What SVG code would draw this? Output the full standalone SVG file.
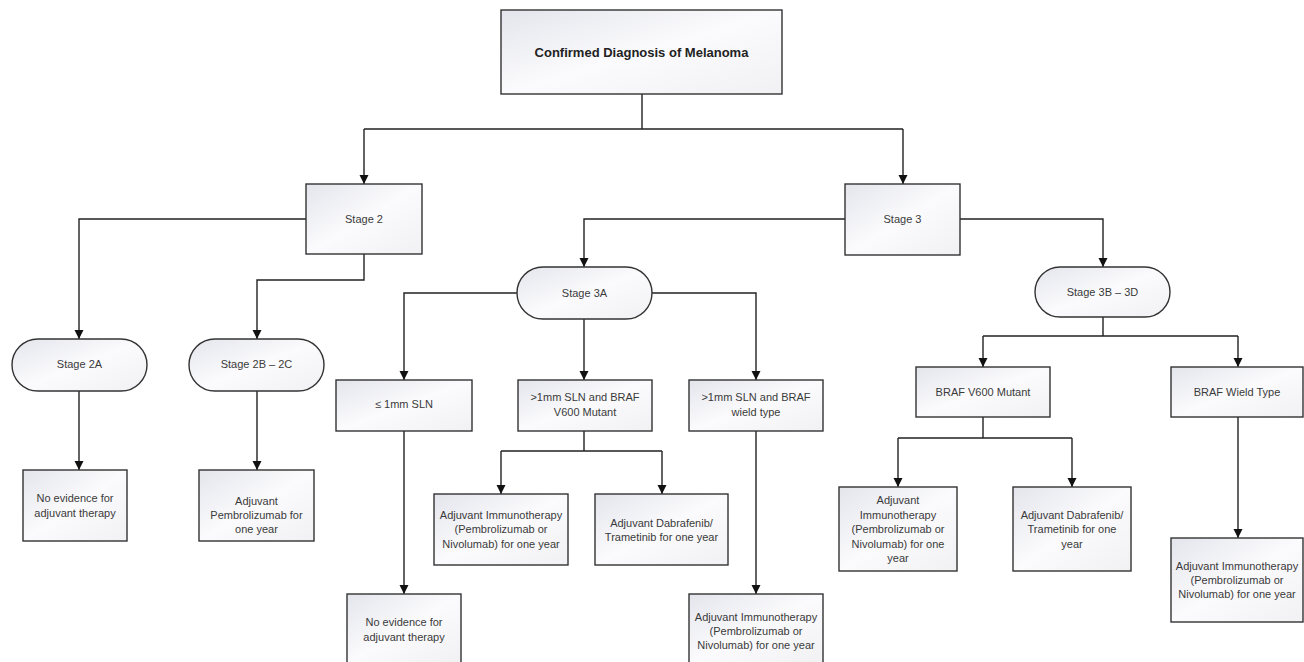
<svg xmlns="http://www.w3.org/2000/svg" width="1304" height="662" viewBox="0 0 1304 662">
<defs>
<linearGradient id="g" x1="0" y1="0" x2="1" y2="1">
<stop offset="0" stop-color="#e4e5ec"/>
<stop offset="0.5" stop-color="#fbfbfd"/>
<stop offset="1" stop-color="#f1f1f3"/>
</linearGradient>
<marker id="arr" markerWidth="10" markerHeight="10" refX="9" refY="5" orient="auto" markerUnits="userSpaceOnUse">
<path d="M0,0.5 L9,5 L0,9.5 Z" fill="#111"/>
</marker>
<style>
.box{fill:url(#g);stroke:#333;stroke-width:1.4}
.t{font-family:"Liberation Sans",Arial,sans-serif;font-size:11px;fill:#3a3a3a;text-anchor:middle;dominant-baseline:central}
.tb{font-family:"Liberation Sans",Arial,sans-serif;font-size:13px;font-weight:bold;fill:#222;text-anchor:middle;dominant-baseline:central}
.c{fill:none;stroke:#222;stroke-width:1.4}
.a{marker-end:url(#arr)}
</style>
</defs>
<rect width="1304" height="662" fill="#fff"/>

<g id="connectors">
<path class="c" d="M642,94 V129 M364,129 H903"/>
<path class="c a" d="M364,129 V184"/>
<path class="c a" d="M903,129 V184"/>
<path class="c a" d="M306,219 H79 V339"/>
<path class="c a" d="M364,254 V280 H257 V339"/>
<path class="c a" d="M79,391 V470"/>
<path class="c a" d="M257,391 V470"/>
<path class="c a" d="M845,219 H584 V267"/>
<path class="c a" d="M960,219 H1103 V267"/>
<path class="c a" d="M517,293 H404 V380"/>
<path class="c a" d="M584,319 V380"/>
<path class="c a" d="M652,293 H756 V380"/>
<path class="c a" d="M404,431 V594"/>
<path class="c" d="M584,431 V451 M501,451 H662"/>
<path class="c a" d="M501,451 V494"/>
<path class="c a" d="M662,451 V494"/>
<path class="c a" d="M756,431 V594"/>
<path class="c" d="M1103,317 V336 M983,336 H1238"/>
<path class="c a" d="M983,336 V367"/>
<path class="c a" d="M1238,336 V367"/>
<path class="c" d="M983,417 V438 M898,438 H1072"/>
<path class="c a" d="M898,438 V487"/>
<path class="c a" d="M1072,438 V487"/>
<path class="c a" d="M1238,417 V538"/>
</g>

<g id="n-root"><rect class="box" x="501" y="10" width="281" height="84"/><text class="tb" x="641.5" y="52">Confirmed Diagnosis of Melanoma</text></g>

<g id="n-stage2"><rect class="box" x="306" y="184" width="116" height="70"/><text class="t" x="364" y="219">Stage 2</text></g>
<g id="n-stage3"><rect class="box" x="845" y="184" width="115" height="71"/><text class="t" x="902.5" y="219">Stage 3</text></g>

<g id="n-stage2a"><rect class="box" x="12" y="339" width="135" height="52" rx="26"/><text class="t" x="79.5" y="364">Stage 2A</text></g>
<g id="n-stage2bc"><rect class="box" x="189" y="339" width="135" height="52" rx="26"/><text class="t" x="256.5" y="364">Stage 2B – 2C</text></g>

<g id="n-leaf2a"><rect class="box" x="23" y="470" width="104" height="71"/><text class="t" x="75" y="498">No evidence for</text><text class="t" x="75" y="513">adjuvant therapy</text></g>
<g id="n-leaf2bc"><rect class="box" x="199" y="470" width="115" height="71"/><text class="t" x="256.5" y="501">Adjuvant</text><text class="t" x="256.5" y="515">Pembrolizumab for</text><text class="t" x="256.5" y="529">one year</text></g>

<g id="n-stage3a"><rect class="box" x="517" y="267" width="135" height="52" rx="26"/><text class="t" x="584.5" y="293">Stage 3A</text></g>
<g id="n-stage3bd"><rect class="box" x="1035" y="267" width="135" height="50" rx="25"/><text class="t" x="1102.5" y="292">Stage 3B – 3D</text></g>

<g id="n-le1mm"><rect class="box" x="336" y="380" width="136" height="51"/><text class="t" x="404" y="404">≤ 1mm SLN</text></g>
<g id="n-gt1mm-v600"><rect class="box" x="518" y="380" width="134" height="51"/><text class="t" x="585" y="397">&gt;1mm SLN and BRAF</text><text class="t" x="585" y="412">V600 Mutant</text></g>
<g id="n-gt1mm-wild"><rect class="box" x="689" y="380" width="134" height="51"/><text class="t" x="756" y="397">&gt;1mm SLN and BRAF</text><text class="t" x="756" y="412">wield type</text></g>

<g id="n-3a-immuno"><rect class="box" x="434" y="494" width="134" height="71"/><text class="t" x="501" y="515">Adjuvant Immunotherapy</text><text class="t" x="501" y="529">(Pembrolizumab or</text><text class="t" x="501" y="544">Nivolumab) for one year</text></g>
<g id="n-3a-dabra"><rect class="box" x="595" y="494" width="133" height="71"/><text class="t" x="661.5" y="523">Adjuvant Dabrafenib/</text><text class="t" x="661.5" y="537">Trametinib for one year</text></g>
<g id="n-3a-noevid"><rect class="box" x="347" y="594" width="114" height="70"/><text class="t" x="404" y="622">No evidence for</text><text class="t" x="404" y="637">adjuvant therapy</text></g>
<g id="n-3a-wild-immuno"><rect class="box" x="689" y="594" width="134" height="70"/><text class="t" x="756" y="617">Adjuvant Immunotherapy</text><text class="t" x="756" y="631">(Pembrolizumab or</text><text class="t" x="756" y="645">Nivolumab) for one year</text></g>

<g id="n-braf-v600"><rect class="box" x="916" y="367" width="134" height="50"/><text class="t" x="983" y="392">BRAF V600 Mutant</text></g>
<g id="n-braf-wild"><rect class="box" x="1171" y="367" width="132" height="50"/><text class="t" x="1237" y="392">BRAF Wield Type</text></g>

<g id="n-3b-immuno"><rect class="box" x="839" y="487" width="118" height="84"/><text class="t" x="898" y="500">Adjuvant</text><text class="t" x="898" y="515">Immunotherapy</text><text class="t" x="898" y="529">(Pembrolizumab or</text><text class="t" x="898" y="544">Nivolumab) for one</text><text class="t" x="898" y="558">year</text></g>
<g id="n-3b-dabra"><rect class="box" x="1013" y="487" width="118" height="84"/><text class="t" x="1072" y="515">Adjuvant Dabrafenib/</text><text class="t" x="1072" y="529">Trametinib for one</text><text class="t" x="1072" y="544">year</text></g>
<g id="n-3b-wild-immuno"><rect class="box" x="1171" y="538" width="132" height="84"/><text class="t" x="1237" y="566">Adjuvant Immunotherapy</text><text class="t" x="1237" y="580">(Pembrolizumab or</text><text class="t" x="1237" y="594">Nivolumab) for one year</text></g>
</svg>
